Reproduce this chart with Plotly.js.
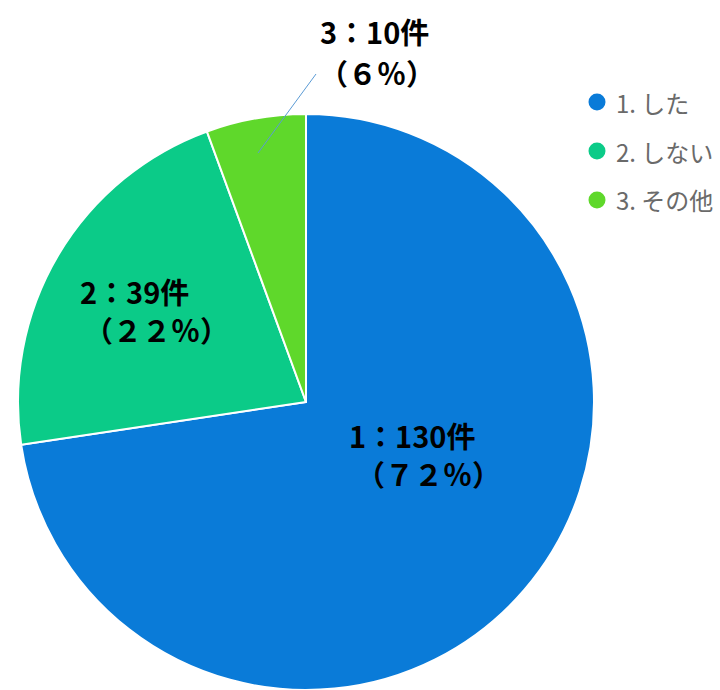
<!DOCTYPE html>
<html><head><meta charset="utf-8">
<script src="https://cdn.plot.ly/plotly-3.0.1.min.js"></script>
<style>html,body{margin:0;padding:0;overflow:hidden;background:#fff}</style>
</head><body><div id="chart" style="width:720px;height:690px"></div>
<script>
const categories = ["1. した", "2. しない", "3. その他"];
const counts = [130, 39, 10];
const labelNums = ["1", "2", "3"];
const pctText = ["（７２％）", "（２２％）", "（６％）"];
const colors = ["#0a7bd8", "#0bcb88", "#5fd82b"];

const W = 720, H = 690;
const px = x => x / W, py = y => 1 - y / H;

const pie = {
  type: "pie",
  values: counts,
  labels: categories,
  sort: false,
  direction: "clockwise",
  rotation: 0,
  textinfo: "none",
  hoverinfo: "none",
  showlegend: false,
  marker: { colors: colors, line: { color: "#ffffff", width: 2 } },
  domain: { x: [px(18), px(594)], y: [0, py(114)] }
};

// label positions (line1 center, line2 center)
const labelPos = [
  [[412, 435], [428, 473]],
  [[134, 291], [156, 329]],
  [[374, 31], [377, 72]]
];
const labelFont = { family: "Noto Sans CJK JP", size: 29, color: "#000" };
const annotations = [];
counts.forEach((c, i) => {
  annotations.push({ xref: "paper", yref: "paper", x: px(labelPos[i][0][0]), y: py(labelPos[i][0][1]),
    xanchor: "center", yanchor: "middle", showarrow: false,
    text: "<b>" + labelNums[i] + "：" + c + "件</b>", font: labelFont });
  annotations.push({ xref: "paper", yref: "paper", x: px(labelPos[i][1][0]), y: py(labelPos[i][1][1]),
    xanchor: "center", yanchor: "middle", showarrow: false,
    text: "<b>" + pctText[i] + "</b>", font: labelFont });
});
// legend
const legY = [102, 151, 200];
const shapes = [];
categories.forEach((cat, i) => {
  annotations.push({ xref: "paper", yref: "paper", x: px(614), y: py(legY[i]),
    xanchor: "left", yanchor: "middle", showarrow: false,
    text: cat, font: { family: "Noto Sans CJK JP", size: 24, color: "#6a6a6a" } });
  shapes.push({ type: "circle", xref: "paper", yref: "paper", xsizemode: "pixel", ysizemode: "pixel",
    xanchor: px(597), yanchor: py(legY[i]), x0: -8.5, x1: 8.5, y0: -8.5, y1: 8.5,
    fillcolor: colors[i], line: { width: 0 } });
});
// leader line for slice 3
shapes.push({ type: "line", xref: "paper", yref: "paper", x0: px(258), y0: py(153), x1: px(316), y1: py(74),
  line: { color: "#5b9bd5", width: 1 } });

Plotly.newPlot("chart", [pie], {
  width: W, height: H,
  margin: { l: 0, r: 0, t: 0, b: 0 },
  paper_bgcolor: "#fff",
  showlegend: false,
  annotations: annotations,
  shapes: shapes
}, { displayModeBar: false, staticPlot: true });
</script></body></html>
